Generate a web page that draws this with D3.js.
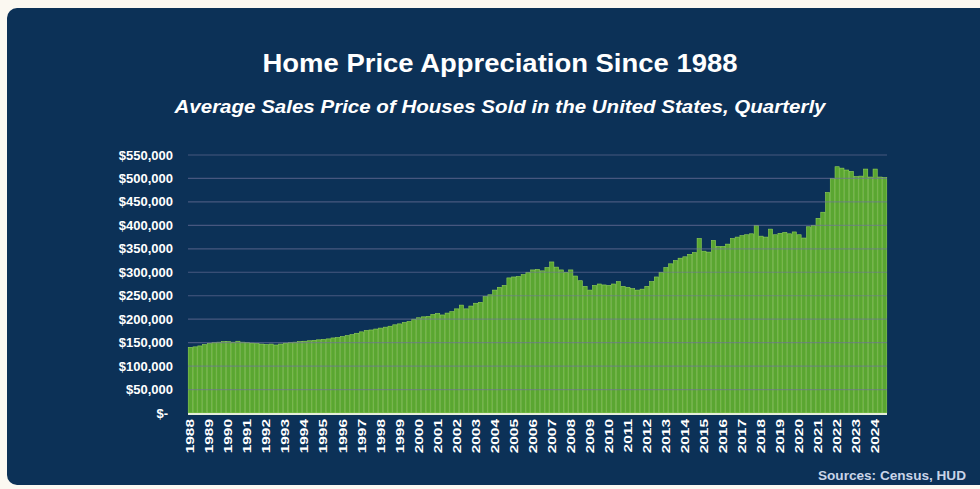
<!DOCTYPE html>
<meta charset="utf-8">
<script src="https://d3js.org/d3.v7.min.js"></script>
<style>
    body{margin:0;background:#fbf8f1;}
    text{font-family:"Liberation Sans",Arial,sans-serif;}
</style>
<body>
    <div id="chart"></div>
    <script>
        // year tick labels (one per Q1)
        const years=d3.range(1988,2025).map(String);

        // average sales price, quarterly, in $ thousands (1988 Q1 .. 2024 Q3)
        const prices=[
            140,141,143,146, 148,150,151,152, 152,151,153,151, 150,149,148,147,
            146,147,145,147, 149,150,151,152, 153,154,155,156, 157,158,160,161,
            163,165,167,170, 173,176,177,179, 181,183,185,188, 190,193,195,200,
            203,205,206,210, 212,209,213,216, 222,230,222,228, 234,236,248,252,
            262,268,272,288, 290,291,295,300, 305,306,303,310, 322,311,305,300,
            305,292,282,270, 262,272,275,273, 272,275,280,270, 268,265,262,264,
            270,280,290,300, 310,318,325,330, 333,338,342,372, 345,343,368,355,
            355,360,372,375, 378,380,382,400, 377,375,392,380, 383,385,382,386,
            380,373,397,400, 415,428,470,500, 525,522,518,515, 504,505,520,503,
            520,503,502
        ];

        const yTicks=d3.range(0,550001,50000);

        const W=980,H=489;
        const plot={left:188,right:887,top:155,bottom:413};

        const svg=d3.select("#chart")
            .append("svg")
                .attr("width",W)
                .attr("height",H);

        svg.append("rect")
            .attr("x",7).attr("y",8)
            .attr("width",990).attr("height",477)
            .attr("rx",10)
            .attr("fill","#0c3157");

        svg.append("text")
            .attr("x",500).attr("y",72)
            .attr("text-anchor","middle")
            .attr("fill","#ffffff")
            .attr("textLength",475)
            .attr("lengthAdjust","spacingAndGlyphs")
            .style("font-size","26px")
            .style("font-weight","bold")
            .text("Home Price Appreciation Since 1988");

        svg.append("text")
            .attr("x",500).attr("y",113)
            .attr("text-anchor","middle")
            .attr("fill","#ffffff")
            .attr("textLength",651)
            .attr("lengthAdjust","spacingAndGlyphs")
            .style("font-size","19px")
            .style("font-style","italic")
            .style("font-weight","bold")
            .text("Average Sales Price of Houses Sold in the United States, Quarterly");

        const x=d3.scaleBand()
            .domain(prices.map((d,i)=>i))
            .range([plot.left,plot.right])
            .paddingInner(0.12)
            .paddingOuter(0.05);

        const y=d3.scaleLinear()
            .domain([0,550000])
            .range([plot.bottom,plot.top]);

        // bars
        svg.append("g")
            .selectAll("rect")
            .data(prices)
            .join("rect")
                .attr("x",(d,i)=>x(i))
                .attr("y",d=>y(d*1000))
                .attr("width",x.bandwidth())
                .attr("height",d=>y(0)-y(d*1000))
                .attr("fill","#5aa631")
                .attr("stroke","#94d455")
                .attr("stroke-width",0.6);

        // gridlines, drawn faintly over the bars
        svg.append("g")
            .selectAll("line")
            .data(yTicks.filter(d=>d>0))
            .join("line")
                .attr("x1",plot.left).attr("x2",plot.right)
                .attr("y1",d=>y(d)).attr("y2",d=>y(d))
                .attr("stroke","#70729a")
                .attr("stroke-opacity",0.6)
                .attr("stroke-width",1.2);

        // baseline
        svg.append("line")
            .attr("x1",plot.left).attr("x2",plot.right)
            .attr("y1",plot.bottom+1).attr("y2",plot.bottom+1)
            .attr("stroke","#e6eedb")
            .attr("stroke-width",2);

        // y labels
        const fmt=d3.format("$,");
        svg.append("g")
            .selectAll("text")
            .data(yTicks)
            .join("text")
                .attr("x",d=>d===0?168:173)
                .attr("y",d=>y(d))
                .attr("dy","0.35em")
                .attr("text-anchor","end")
                .attr("fill","#ffffff")
                .style("font-size","13px")
                .style("font-weight","bold")
                .text(d=>d===0?"$-":fmt(d));

        // year labels, rotated
        svg.append("g")
            .selectAll("text")
            .data(years)
            .join("text")
                .attr("transform",(d,i)=>`translate(${x(i*4)+x.bandwidth()/2+4},419) rotate(-90) scale(1.4,1)`)
                .attr("text-anchor","end")
                .attr("fill","#ffffff")
                .style("font-size","11px")
                .style("font-weight","bold")
                .text(d=>d);

        svg.append("text")
            .attr("x",966).attr("y",480)
            .attr("text-anchor","end")
            .attr("fill","#c9d4e8")
            .attr("textLength",148)
            .attr("lengthAdjust","spacingAndGlyphs")
            .style("font-size","12px")
            .style("font-weight","bold")
            .text("Sources: Census, HUD");
    </script>
</body>
